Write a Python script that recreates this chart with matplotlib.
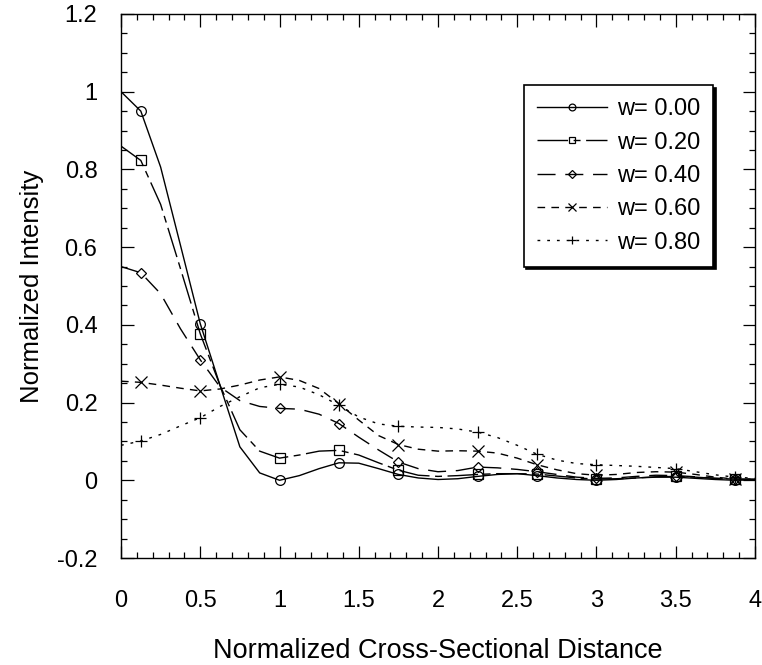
import matplotlib
matplotlib.use("Agg")
import matplotlib.pyplot as plt
import numpy as np
from matplotlib.ticker import MultipleLocator, FormatStrFormatter

plt.rcParams['font.family'] = ['Liberation Sans', 'DejaVu Sans']

# sample positions along the cross-section (step 0.125)
x = np.arange(0, 4.0001, 0.125)

w_labels = ['w= 0.00', 'w= 0.20', 'w= 0.40', 'w= 0.60', 'w= 0.80']

w00 = [1.0, 0.95, 0.806, 0.605, 0.403, 0.244, 0.086, 0.019, 0.0,
       0.012, 0.030, 0.045, 0.044, 0.030, 0.015, 0.006, 0.002,
       0.004, 0.010, 0.015, 0.017, 0.012, 0.006, 0.002, 0.0,
       0.002, 0.006, 0.008, 0.008, 0.005, 0.002, 0.0, 0.001]
w20 = [0.86, 0.823, 0.71, 0.545, 0.377, 0.244, 0.13, 0.075, 0.057,
       0.065, 0.075, 0.077, 0.065, 0.045, 0.026, 0.013, 0.010,
       0.012, 0.015, 0.017, 0.017, 0.016, 0.011, 0.006, 0.003,
       0.004, 0.006, 0.009, 0.010, 0.008, 0.005, 0.003, 0.002]
w40 = [0.55, 0.534, 0.48, 0.39, 0.31, 0.24, 0.205, 0.19, 0.185,
       0.183, 0.17, 0.146, 0.111, 0.078, 0.047, 0.030, 0.022,
       0.025, 0.034, 0.032, 0.028, 0.022, 0.015, 0.008, 0.005,
       0.006, 0.010, 0.013, 0.012, 0.009, 0.005, 0.003, 0.003]
w60 = [0.255, 0.252, 0.245, 0.237, 0.23, 0.235, 0.245, 0.258, 0.266,
       0.257, 0.236, 0.197, 0.155, 0.115, 0.092, 0.080, 0.075,
       0.076, 0.075, 0.070, 0.057, 0.040, 0.027, 0.017, 0.013,
       0.015, 0.020, 0.022, 0.021, 0.015, 0.008, 0.003, 0.003]
w80 = [0.09, 0.101, 0.118, 0.14, 0.161, 0.19, 0.215, 0.238, 0.247,
       0.24, 0.22, 0.193, 0.163, 0.145, 0.139, 0.137, 0.136,
       0.132, 0.124, 0.110, 0.090, 0.067, 0.052, 0.043, 0.040,
       0.038, 0.036, 0.033, 0.030, 0.022, 0.014, 0.008, 0.005]

series = [w00, w20, w40, w60, w80]
markers = ['o', 's', 'D', 'x', '+']
msizes = [7, 7, 5.5, 8, 9]
dashes = [None, (22, 4, 5, 4), (13, 7), (5.5, 4.5), (2, 5)]
mark_idx = [1, 4, 8, 11, 14, 18, 21, 24, 28, 31]

fig = plt.figure(figsize=(7.62, 6.65), dpi=100)
ax = fig.add_axes([0.1588, 0.1609, 0.8320, 0.8181])

for y, lab, m, ms, d in zip(series, w_labels, markers, msizes, dashes):
    line, = ax.plot(x, y, color='black', lw=1.0, marker=m, markersize=ms,
                    markerfacecolor='none', markeredgecolor='black',
                    markeredgewidth=0.9, markevery=mark_idx, label=lab)
    if d is not None:
        line.set_dashes(d)

ax.set_xlim(0, 4)
ax.set_ylim(-0.2, 1.2)
ax.xaxis.set_major_locator(MultipleLocator(0.5))
ax.xaxis.set_minor_locator(MultipleLocator(0.1))
ax.yaxis.set_major_locator(MultipleLocator(0.2))
ax.yaxis.set_minor_locator(MultipleLocator(0.05))
ax.xaxis.set_major_formatter(FormatStrFormatter('%g'))
ax.yaxis.set_major_formatter(FormatStrFormatter('%g'))

ax.tick_params(which='both', direction='in', top=True, right=True,
               labelsize=17, width=0.9)
ax.tick_params(axis='x', which='major', length=9, pad=23)
ax.tick_params(axis='y', which='major', length=9, pad=17)
ax.tick_params(which='minor', length=4.5)
for s in ax.spines.values():
    s.set_linewidth(1.0)

ax.set_xlabel('Normalized Cross-Sectional Distance', fontsize=19.5, labelpad=19)
ax.set_ylabel('Normalized Intensity', fontsize=18.5, labelpad=9)

leg = ax.legend(loc='upper right', bbox_to_anchor=(0.934, 0.869),
                fontsize=17, frameon=True, fancybox=False,
                shadow={'color': 'black', 'alpha': 1.0},
                handlelength=3.0, handletextpad=0.4, labelspacing=0.48,
                borderpad=0.55, markerscale=0.7, borderaxespad=0)
leg.get_frame().set_edgecolor('black')
leg.get_frame().set_linewidth(1.2)
leg.get_frame().set_alpha(1)

fig.savefig('out.png', dpi=100)
